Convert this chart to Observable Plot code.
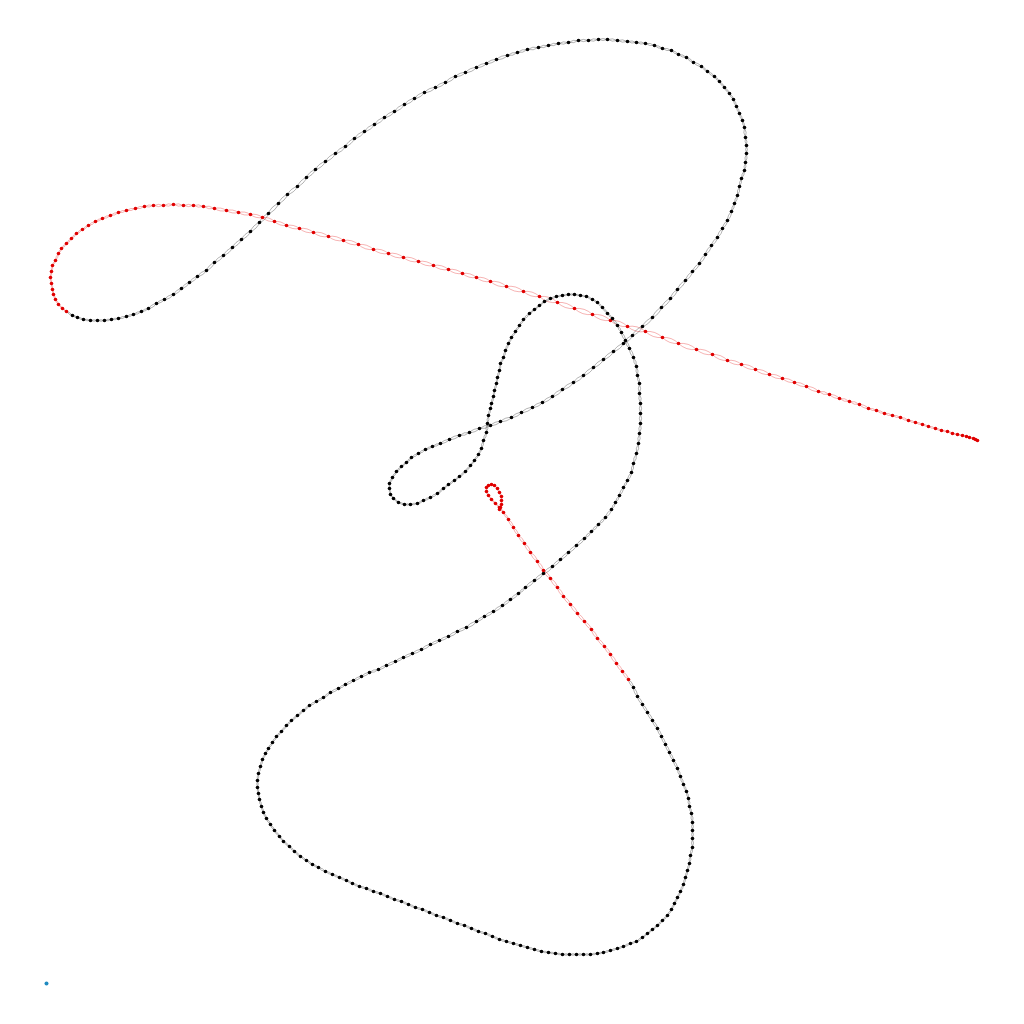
<!DOCTYPE html>
<html>
<head>
<meta charset="utf-8">
<script src="https://cdn.jsdelivr.net/npm/d3@7"></script>
<script src="https://cdn.jsdelivr.net/npm/@observablehq/plot@0.6"></script>
<style>
  html, body { margin: 0; padding: 0; background: #fff; }
  svg { display: block; }
</style>
</head>
<body>
<div id="chart"></div>
<script>
// Leading (red) section of the curve
const leadX = [931,929,927,923,920,916,911,906,901,895,889,882,876,869,862,854,846,838,830,822,813,803,793,783,772,760,748,736,723,709,695,681,666,650,632,616,599,581,564,546,528,511,493,477,460,444,430,416,402,387,372,357,342,327,312,297,282,267,253,240,228,216,204,192,180,168,157,147,137,127,117,107,98,89,80,72,64,56,49,42,36,30,25,20,15,12,9,6,5,4,5,6,7,9,12,16,20];
const leadY = [543,544,545,546,547,548,549,550,552,553,555,557,559,561,563,566,568,570,573,575,579,582,585,589,592,597,601,605,609,614,619,623,629,634,640,646,652,657,663,669,675,681,687,692,697,702,706,710,714,718,722,726,730,734,739,743,747,751,755,758,762,766,769,771,773,775,777,778,778,779,778,778,777,775,773,771,768,765,762,758,754,750,745,740,735,730,723,718,712,706,700,694,689,684,679,675,672];

// Main (black) section of the curve
const bodyX = [26,31,37,44,51,58,65,72,80,87,95,102,110,118,127,135,143,151,160,168,177,186,195,204,213,222,232,241,251,260,269,279,289,299,308,318,328,338,348,358,368,378,389,399,409,419,430,440,450,461,471,481,492,502,512,522,532,542,552,561,571,581,590,599,608,616,625,632,640,647,655,661,668,673,678,683,687,690,693,696,698,699,700,700,699,698,695,693,691,688,685,681,676,671,665,659,653,646,639,631,624,615,606,596,586,577,567,557,547,537,527,516,506,496,486,475,465,454,444,433,423,413,403,394,386,379,372,365,360,355,350,346,343,343,344,347,352,358,364,371,377,384,391,397,402,408,413,419,424,428,432,435,437,440,441,442,444,445,447,448,450,451,453,454,457,459,462,465,469,473,477,483,488,493,498,504,510,516,522,528,534,540,546,551,556,561,566,571,575,579,583,587,590,591,593,593,594,594,594,593,592,590,587,585,581,577,573,569,565,559,552,545,538,530,522,514,506,497,488,479,472,464,456,447,438,430,420,411,402,393,384,375,366,357,349,340,332,323,315,307,299,292,284,277,270,263,257,251,245,240,235,230,226,222,219,216,214,212,211,211,212,213,215,217,220,224,228,233,237,243,248,254,260,266,272,279,286,293,300,306,313,320,327,334,341,348,355,362,369,376,383,390,397,404,411,418,425,432,439,446,453,460,467,474,481,488,495,502,509,516,523,530,537,544,551,557,564,571,577,584,590,596,601,606,611,616,621,625,628,631,634,637,639,641,643,644,646,646,646,646,645,643,642,640,637,634,631,627,623,619,615,611,606,601,596,591,587];
const bodyY = [668,666,664,663,663,663,664,665,667,669,672,675,680,684,689,695,701,707,713,721,728,736,744,752,761,770,780,789,797,806,814,822,830,837,845,852,859,866,872,879,885,891,896,901,907,911,916,920,924,928,931,934,936,938,940,941,943,943,944,944,943,942,941,940,938,935,933,929,926,921,917,912,907,902,896,890,884,877,870,863,856,846,838,830,821,813,805,797,788,780,772,763,755,746,738,729,720,712,703,694,685,676,666,657,648,640,632,624,616,608,601,594,587,581,576,571,566,562,558,555,551,548,544,540,537,534,530,526,521,517,512,506,500,495,489,485,481,479,479,480,483,486,490,495,499,503,507,512,518,523,529,535,543,551,560,568,575,580,587,593,600,606,613,620,626,633,640,646,652,658,664,670,674,678,682,685,687,688,689,689,688,687,684,681,676,670,665,658,651,643,635,626,617,608,600,590,580,570,560,550,540,530,520,511,503,496,488,481,474,466,459,452,445,438,431,424,417,410,403,396,390,384,378,372,367,362,356,352,347,343,339,334,330,326,322,318,314,311,307,303,299,295,291,286,282,278,273,268,263,258,252,247,241,235,230,224,217,210,203,196,190,184,177,171,165,159,153,147,142,137,132,127,123,119,116,112,109,106,103,100,97,95,92,90,87,84,82,79,76,74,71,68,66,63,60,58,55,52,50,47,44,42,40,38,36,34,32,31,30,29,29,29,29,29,30,31,33,35,37,40,42,46,50,54,58,63,68,74,80,86,92,99,106,113,120,128,136,145,153,161,170,177,185,192,199,207,215,223,231,239,247,255,263,271,279,287,296];

// Closing (red) section of the curve, ending in a small loop
const tailX = [582,576,570,564,558,551,545,538,531,524,517,511,504,497,491,484,478,472,467,462,457,453,449,445,442,440,440,442,445,448,451,453,455,455,455,454,453];
const tailY = [304,312,320,329,337,345,354,362,370,379,387,396,405,413,422,431,440,448,456,464,471,476,480,484,488,492,496,498,499,498,495,491,487,483,479,476,474];

// Origin marker
const originX = [0];
const originY = [0];

const parts = [
  ["lead", leadX, leadY],
  ["body", bodyX, bodyY],
  ["tail", tailX, tailY]
];
const points = parts.flatMap(([part, xs, ys]) => xs.map((x, i) => ({x, y: ys[i], part})));
const links = points.slice(1).map((p, i) => ({
  x1: points[i].x, y1: points[i].y, x2: p.x, y2: p.y,
  part: points[i].part === p.part ? p.part : "body"
}));
const origin = originX.map((x, i) => ({x, y: originY[i]}));

const colour = d => (d.part === "body" ? "#000" : "#e00000");

const chart = Plot.plot({
  width: 1024,
  height: 1024,
  marginLeft: 46,
  marginRight: 0,
  marginTop: 0,
  marginBottom: 41,
  x: {domain: [0, 978], axis: null},
  y: {domain: [0, 983], axis: null},
  marks: [
    Plot.arrow(links, {x1: "x1", y1: "y1", x2: "x2", y2: "y2", bend: 26, headLength: 0, stroke: colour, strokeWidth: 0.6, strokeOpacity: 0.5}),
    Plot.arrow(links, {x1: "x1", y1: "y1", x2: "x2", y2: "y2", bend: -26, headLength: 0, stroke: colour, strokeWidth: 0.6, strokeOpacity: 0.5}),
    Plot.dot(points, {x: "x", y: "y", r: 1.8, fill: colour, stroke: null}),
    Plot.dot(origin, {x: "x", y: "y", r: 2, fill: "#1f8ac0", stroke: null})
  ]
});
document.getElementById("chart").appendChild(chart);
</script>
</body>
</html>
